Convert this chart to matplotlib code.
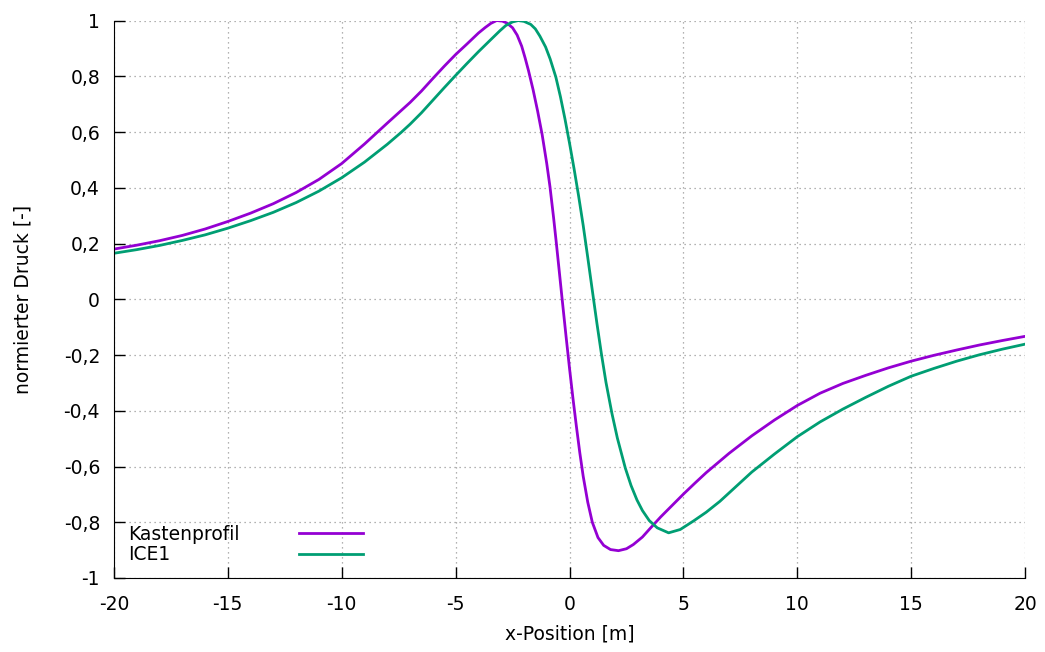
import matplotlib
matplotlib.use("Agg")
import matplotlib.pyplot as plt
from matplotlib.lines import Line2D
from matplotlib.ticker import FuncFormatter, MultipleLocator

# values
x_kasten = [-20, -19, -18, -17, -16, -15, -14, -13, -12, -11, -10, -9, -8, -7.5, -7,
            -6.5, -6, -5.5, -5, -4.5, -4, -3.7, -3.45, -3.2, -2.95, -2.75, -2.5, -2.3,
            -2.1, -1.95, -1.8, -1.6, -1.4, -1.2, -1.0, -0.86, -0.7, -0.59, -0.45,
            -0.33, -0.15, 0, 0.15, 0.3, 0.45, 0.6, 0.8, 1.0, 1.25, 1.5, 1.8, 2.15,
            2.5, 2.8, 3.2, 3.54, 4.0, 4.5, 5.0, 5.5, 6.0, 7.0, 8.0, 9.0, 10, 11, 12,
            13, 14, 15, 16, 17, 18, 19, 20]
y_kasten = [0.180, 0.194, 0.210, 0.229, 0.252, 0.279, 0.309, 0.343, 0.383, 0.430,
            0.487, 0.557, 0.632, 0.669, 0.706, 0.747, 0.792, 0.836, 0.878, 0.916,
            0.955, 0.975, 0.990, 1.0, 0.998, 0.991, 0.974, 0.948, 0.908, 0.866,
            0.820, 0.752, 0.675, 0.590, 0.487, 0.405, 0.293, 0.210, 0.100, 0.005,
            -0.135, -0.248, -0.355, -0.455, -0.550, -0.635, -0.728, -0.800, -0.855,
            -0.883, -0.898, -0.902, -0.895, -0.88, -0.853, -0.822, -0.781, -0.74,
            -0.699, -0.66, -0.622, -0.553, -0.49, -0.433, -0.381, -0.337, -0.302,
            -0.273, -0.246, -0.222, -0.201, -0.182, -0.164, -0.148, -0.133]

x_ice1 = [-20, -19, -18, -17, -16, -15, -14, -13, -12, -11, -10, -9, -8, -7.4, -7,
          -6.5, -6, -5.5, -5, -4.5, -4, -3.5, -3.06, -2.8, -2.5, -2.25, -2.0, -1.7,
          -1.5, -1.3, -1.05, -0.85, -0.6, -0.4, -0.2, 0, 0.2, 0.4, 0.6, 0.8, 1.0,
          1.2, 1.4, 1.6, 1.86, 2.1, 2.45, 2.7, 2.96, 3.2, 3.5, 3.85, 4.35, 4.86,
          5.45, 6.0, 6.6, 7.2, 8.0, 9.0, 10, 11, 12, 13, 14, 15, 16, 17, 18, 19, 20]
y_ice1 = [0.165, 0.178, 0.193, 0.211, 0.231, 0.255, 0.282, 0.312, 0.347, 0.388,
          0.436, 0.492, 0.556, 0.598, 0.628, 0.669, 0.714, 0.759, 0.803, 0.846,
          0.888, 0.928, 0.963, 0.982, 0.995, 1.0, 0.997, 0.986, 0.970, 0.944,
          0.905, 0.862, 0.797, 0.727, 0.647, 0.560, 0.468, 0.370, 0.265, 0.150,
          0.032, -0.085, -0.196, -0.298, -0.409, -0.498, -0.606, -0.668, -0.720,
          -0.758, -0.794, -0.820, -0.838, -0.826, -0.795, -0.764, -0.725, -0.680,
          -0.620, -0.555, -0.493, -0.440, -0.394, -0.352, -0.312, -0.276, -0.248,
          -0.222, -0.199, -0.179, -0.161]

labels = ["Kastenprofil", "ICE1"]
colors = ["#9400D3", "#009E73"]

plt.rcParams["font.family"] = ["DejaVu Sans"]
fs = 13.5

fig = plt.figure(figsize=(10.45, 6.52), dpi=100)
ax = fig.add_axes([0.109, 0.1135, 0.872, 0.855])

l1, = ax.plot(x_kasten, y_kasten, color=colors[0], lw=2.0)
l2, = ax.plot(x_ice1, y_ice1, color=colors[1], lw=2.0)

ax.set_xlim(-20, 20)
ax.set_ylim(-1, 1)
ax.xaxis.set_major_locator(MultipleLocator(5))
ax.yaxis.set_major_locator(MultipleLocator(0.2))

def komma(v, pos):
    s = "%g" % round(v, 2)
    return s.replace(".", ",")

ax.xaxis.set_major_formatter(FuncFormatter(komma))
ax.yaxis.set_major_formatter(FuncFormatter(komma))

ax.grid(True, color="#999999", linestyle=(0, (1, 3)), lw=0.9)
ax.spines["top"].set_visible(False)
ax.spines["right"].set_visible(False)
ax.tick_params(direction="in", length=8, width=1, labelsize=fs)
ax.tick_params(axis="x", pad=12)
ax.tick_params(axis="y", pad=10)

ax.set_xlabel("x-Position [m]", fontsize=fs, labelpad=8)
ax.set_ylabel("normierter Druck [-]", fontsize=fs, labelpad=22)

# gnuplot style key: text left, line sample right
blank = [Line2D([], [], color="none"), Line2D([], [], color="none")]
leg1 = ax.legend(blank, labels, loc="lower left", bbox_to_anchor=(-0.003, -0.006),
                 frameon=False, handlelength=0, handletextpad=0, fontsize=fs,
                 labelspacing=0.1)
ax.add_artist(leg1)
ax.legend([l1, l2], [" ", " "], loc="lower left", bbox_to_anchor=(0.1845, -0.006),
          frameon=False, handlelength=3.4, handletextpad=0, fontsize=fs,
          labelspacing=0.1)

fig.savefig("out.png", dpi=100)
